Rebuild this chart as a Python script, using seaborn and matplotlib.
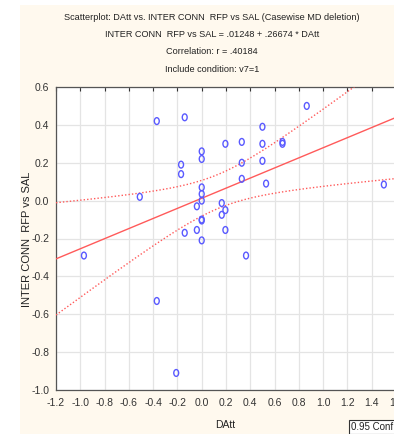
import numpy as np
import pandas as pd
import matplotlib
matplotlib.use("Agg")
import matplotlib.pyplot as plt
from matplotlib.patches import Rectangle
from matplotlib.path import Path
import seaborn as sns

# DAtt vs. INTER CONN RFP vs SAL (cases with v7=1)
datt = [-0.97, -0.51, -0.37, -0.37, -0.21, -0.14, -0.17, -0.17, -0.14,
        -0.04, -0.04, 0.0, 0.0, 0.0, 0.0, 0.0, 0.0, 0.0, 0.0,
        0.165, 0.165, 0.195, 0.195, 0.195, 0.33, 0.33, 0.33, 0.365,
        0.50, 0.50, 0.50, 0.53, 0.665, 0.665, 0.865, 1.50]
inter_conn = [-0.29, 0.02, 0.42, -0.53, -0.91, 0.44, 0.19, 0.14, -0.17,
              -0.03, -0.155, 0.26, 0.22, 0.07, 0.035, 0.0, -0.10, -0.105, -0.21,
              -0.013, -0.075, -0.05, -0.155, 0.30, 0.31, 0.20, 0.115, -0.29,
              0.39, 0.30, 0.21, 0.09, 0.31, 0.30, 0.50, 0.085]

intercept = 0.01248
slope = 0.26674
corr_r = 0.40184

x_ticks = [-1.2, -1.0, -0.8, -0.6, -0.4, -0.2, 0.0, 0.2, 0.4, 0.6, 0.8, 1.0, 1.2, 1.4, 1.6]
y_ticks = [0.6, 0.4, 0.2, 0.0, -0.2, -0.4, -0.6, -0.8, -1.0]

sns.set_style("white")
plt.rcParams["font.family"] = ["Liberation Sans Narrow", "Liberation Sans", "DejaVu Sans"]

df = pd.DataFrame({"DAtt": datt, "INTER CONN  RFP vs SAL": inter_conn})

# fitted line and 95% confidence band of the mean
x = np.asarray(datt)
y = np.asarray(inter_conn)
n = len(x)
resid = y - (intercept + slope * x)
s = np.sqrt(np.sum(resid ** 2) / (n - 2))
sxx = np.sum((x - x.mean()) ** 2)
t_crit = 2.032
xs = np.linspace(-1.2, 1.6, 200)
fit = intercept + slope * xs
half = t_crit * s * np.sqrt(1.0 / n + (xs - x.mean()) ** 2 / sxx)
lines = pd.DataFrame({"x": xs, "fit": fit, "lo": fit - half, "hi": fit + half})

cream = "#FFF9EE"
fig = plt.figure(figsize=(3.94, 4.34), dpi=100, facecolor="white")
fig.patches.append(Rectangle((20 / 394, 0), 1, 1 - 5 / 434, transform=fig.transFigure,
                             facecolor=cream, edgecolor="none", zorder=-10))

ax = fig.add_axes([56 / 394, 44 / 434, 340 / 394, 303 / 434])
ax.set_facecolor("white")

red = "#FF5A5A"
sns.lineplot(data=lines, x="x", y="fit", ax=ax, color=red, lw=1.0, zorder=3)
sns.lineplot(data=lines, x="x", y="lo", ax=ax, color=red, lw=1.0, ls=(0, (1, 1.5)), zorder=3)
sns.lineplot(data=lines, x="x", y="hi", ax=ax, color=red, lw=1.0, ls=(0, (1, 1.5)), zorder=3)

# slightly tall open "o" marker
circ = Path.unit_circle()
oval = Path(circ.vertices * np.array([0.72, 1.0]), circ.codes)
sns.scatterplot(data=df, x="DAtt", y="INTER CONN  RFP vs SAL", ax=ax, marker=oval,
                s=24, facecolor="none", edgecolor="#5A5AFF", linewidth=1.0, zorder=4)

ax.set_xlim(-1.2, 1.6)
ax.set_ylim(-1.0, 0.6)
ax.set_xticks(x_ticks)
ax.set_yticks(y_ticks)
ax.set_xticklabels([f"{v:.1f}" for v in x_ticks])
ax.set_yticklabels([f"{v:.1f}" for v in y_ticks])
ax.grid(True, color="#E4E4E4", lw=0.9)
ax.set_axisbelow(True)
for sp in ax.spines.values():
    sp.set_color("#555555")
    sp.set_linewidth(0.9)
ax.tick_params(axis="x", direction="in", length=3, pad=6, labelsize=7.5,
               colors="#333333", top=True, width=0.8)
ax.tick_params(axis="y", direction="out", length=3, pad=2, labelsize=7.5,
               colors="#333333", width=0.8)
ax.set_xlabel("")
ax.set_ylabel("")

fig.text(27 / 394, 1 - 239 / 434, "INTER CONN  RFP vs SAL", rotation=90,
         ha="center", va="center", fontsize=8, color="#222222",
         family=["Liberation Sans", "DejaVu Sans"])
fig.text(225 / 394, 1 - 425 / 434, "DAtt", ha="center", va="center",
         fontsize=7.5, color="#222222")

titles = [
    "Scatterplot: DAtt vs. INTER CONN  RFP vs SAL (Casewise MD deletion)",
    f"INTER CONN  RFP vs SAL = {intercept:.5f}".replace("0.", ".") + f" + {slope:.5f}".replace("0.", ".") + " * DAtt",
    f"Correlation: r = {corr_r:.5f}".replace("0.", "."),
    "Include condition: v7=1",
]
for i, t in enumerate(titles):
    fig.text(212 / 394, 1 - (17 + 17.4 * i) / 434, t, ha="center", va="center",
             fontsize=6.6, color="#222222")

fig.text(351 / 394, 1 - 427 / 434, "0.95 Conf.Int.", ha="left", va="center",
         fontsize=7, color="#222222",
         bbox=dict(boxstyle="square,pad=0.25", facecolor="white", edgecolor="#333333", lw=0.8))

fig.savefig("out.png", dpi=100, facecolor=fig.get_facecolor())
